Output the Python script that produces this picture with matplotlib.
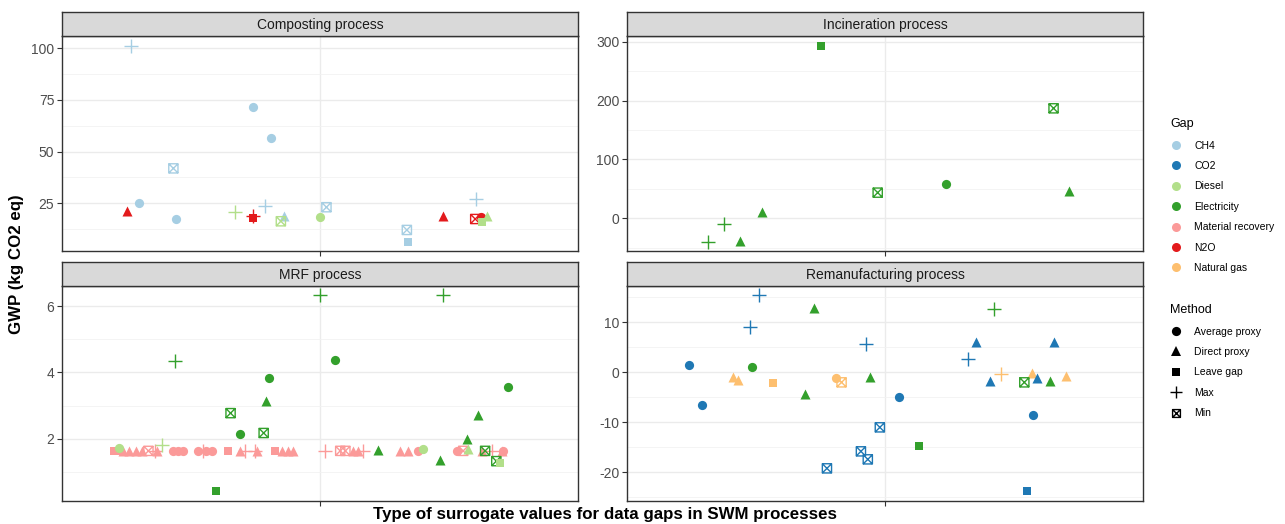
import matplotlib
matplotlib.use("Agg")
import matplotlib.pyplot as plt
from matplotlib.path import Path
from matplotlib.lines import Line2D
import numpy as np

plt.rcParams['font.family'] = ['Liberation Sans', 'DejaVu Sans']
plt.rcParams['axes.unicode_minus'] = False

# ---------------- data ----------------
gap_levels = ["CH4", "CO2", "Diesel", "Electricity", "Material recovery", "N2O", "Natural gas"]
gap_colors = ["#A6CEE3", "#1F78B4", "#B2DF8A", "#33A02C", "#FB9A99", "#E31A1C", "#FDBF6F"]
method_levels = ["Average proxy", "Direct proxy", "Leave gap", "Max", "Min"]

# Composting process
comp_gap = ["CH4", "CH4", "CH4", "CH4", "N2O", "CH4", "CH4", "Diesel", "N2O", "N2O", "CH4",
            "CH4", "Diesel", "Diesel", "CH4", "CH4", "CH4", "N2O", "CH4", "N2O", "N2O", "Diesel", "Diesel"]
comp_method = ["Max", "Average proxy", "Average proxy", "Min", "Direct proxy", "Average proxy",
               "Average proxy", "Max", "Leave gap", "Max", "Max", "Direct proxy", "Min",
               "Average proxy", "Min", "Min", "Leave gap", "Direct proxy", "Max", "Min",
               "Average proxy", "Direct proxy", "Leave gap"]
comp_jitter = [-0.439, -0.156, -0.113, -0.341, -0.450, -0.420, -0.336, -0.198, -0.156, -0.156,
               -0.127, -0.084, -0.091, 0.000, 0.015, 0.202, 0.205, 0.285, 0.363, 0.361,
               0.374, 0.389, 0.376]
comp_gwp = [101.1, 71.8, 56.6, 41.9, 21.3, 25.3, 17.6, 21.0, 18.1, 19.0, 23.7, 19.0, 16.3,
            18.5, 23.1, 12.1, 6.5, 18.9, 27.3, 17.4, 18.2, 18.9, 16.1]

# Incineration process
inc_gap = ["Electricity"] * 9
inc_method = ["Leave gap", "Min", "Min", "Average proxy", "Direct proxy", "Direct proxy",
              "Max", "Max", "Direct proxy"]
inc_jitter = [-0.149, 0.392, -0.017, 0.142, 0.428, -0.286, -0.375, -0.411, -0.338]
inc_gwp = [293.2, 186.8, 43.6, 57.7, 46.4, 10.2, -10.2, -40.8, -37.9]

# MRF process: material recovery band
mrf_mr_method = (["Leave gap"] * 4 + ["Direct proxy"] * 16 + ["Average proxy"] * 9
                 + ["Max"] * 7 + ["Min"] * 4)
mrf_mr_jitter = [-0.480, -0.471, -0.215, -0.104,
                 -0.459, -0.445, -0.429, -0.413, -0.378, -0.187, -0.146, -0.088, -0.074,
                 -0.062, 0.077, 0.089, 0.186, 0.205, 0.377, 0.423,
                 -0.343, -0.331, -0.318, -0.283, -0.266, -0.250, 0.228, 0.319, 0.425,
                 -0.383, -0.271, -0.174, -0.150, 0.012, 0.101, 0.400,
                 -0.399, 0.047, 0.059, 0.333]
mrf_mr_gwp = [1.63] * 40
# MRF process: electricity and diesel
mrf_gap = ["Electricity"] * 17 + ["Diesel"] * 5
mrf_method = ["Max", "Max", "Max", "Average proxy", "Average proxy", "Average proxy",
              "Direct proxy", "Min", "Min", "Average proxy", "Direct proxy", "Direct proxy",
              "Direct proxy", "Direct proxy", "Leave gap", "Min", "Min",
              "Leave gap", "Max", "Average proxy", "Direct proxy", "Average proxy"]
mrf_jitter = [0.000, 0.286, -0.338, 0.036, -0.118, 0.437, -0.126, -0.208, -0.131, -0.187,
              0.367, 0.343, 0.279, 0.136, -0.242, 0.410, 0.384,
              0.419, -0.367, 0.239, 0.345, -0.468]
mrf_gwp = [6.33, 6.33, 4.35, 4.36, 3.82, 3.56, 3.15, 2.77, 2.17, 2.14, 2.71, 1.98, 1.36,
           1.66, 0.42, 1.32, 1.63, 1.25, 1.81, 1.69, 1.69, 1.71]

# Remanufacturing process
rem_gap = ["CO2", "Electricity", "CO2", "CO2", "Electricity", "CO2", "CO2", "CO2", "CO2",
           "Electricity", "Natural gas", "Natural gas", "Natural gas", "Natural gas",
           "Natural gas", "Electricity", "Electricity", "CO2", "CO2", "CO2", "CO2", "CO2",
           "CO2", "Electricity", "Natural gas", "CO2", "Natural gas", "CO2", "Electricity",
           "Electricity", "Natural gas", "CO2", "CO2"]
rem_method = ["Max", "Direct proxy", "Max", "Max", "Max", "Direct proxy", "Direct proxy",
              "Max", "Average proxy", "Average proxy", "Direct proxy", "Direct proxy",
              "Leave gap", "Average proxy", "Min", "Direct proxy", "Direct proxy",
              "Average proxy", "Average proxy", "Min", "Min", "Min", "Min", "Leave gap",
              "Max", "Direct proxy", "Direct proxy", "Direct proxy", "Min", "Direct proxy",
              "Direct proxy", "Average proxy", "Leave gap"]
rem_jitter = [-0.293, -0.164, -0.314, -0.044, 0.254, 0.211, 0.393, 0.194, -0.456, -0.310,
              -0.354, -0.341, -0.261, -0.115, -0.101, -0.034, -0.187, -0.426, 0.033,
              -0.012, -0.056, -0.040, -0.135, 0.079, 0.269, 0.245, 0.343, 0.354, 0.324,
              0.384, 0.420, 0.345, 0.331]
rem_gwp = [15.4, 12.87, 9.07, 5.67, 12.67, 6.0, 6.0, 2.67, 1.4, 1.07, -1.0, -1.53, -2.07,
           -1.13, -2.0, -0.87, -4.4, -6.6, -5.0, -11.0, -15.8, -17.4, -19.2, -14.67, -0.33,
           -1.67, -0.13, -1.13, -2.0, -1.67, -0.8, -8.53, -23.67]

panel_titles = ["Composting process", "Incineration process", "MRF process", "Remanufacturing process"]
panel_ylim = [(1.92, 105.95), (-55.5, 309.6), (0.116, 6.61), (-25.73, 17.27)]
panel_major = [[25, 50, 75, 100], [0, 100, 200, 300], [2, 4, 6], [-20, -10, 0, 10]]
panel_minor = [[12.5, 37.5, 62.5, 87.5], [-50, 50, 150, 250], [1, 3, 5], [-25, -15, -5, 5, 15]]

# ---------------- styles ----------------
box_x = Path([(-1, -1), (1, -1), (1, 1), (-1, 1), (-1, -1), (-1, -1), (1, 1), (-1, 1), (1, -1)],
             [Path.MOVETO, Path.LINETO, Path.LINETO, Path.LINETO, Path.CLOSEPOLY,
              Path.MOVETO, Path.LINETO, Path.MOVETO, Path.LINETO])
mstyle = {
    "Average proxy": dict(marker="o", s=44, kind="filled"),
    "Direct proxy": dict(marker="^", s=52, kind="filled"),
    "Leave gap": dict(marker="s", s=34, kind="filled"),
    "Max": dict(marker="+", s=100, kind="line"),
    "Min": dict(marker=box_x, s=44, kind="open"),
}
cmap = dict(zip(gap_levels, gap_colors))

W, H = 1285, 524
fig = plt.figure(figsize=(W / 100, H / 100), dpi=100)

def fx(px):
    return px / W

def fy(py):
    return 1 - py / H

panel_px = [(62, 36, 578, 251), (627, 36, 1143, 251), (62, 286, 578, 501), (627, 286, 1143, 501)]
strip_h = 24

def draw_points(ax, gaps, methods, jit, vals):
    for g, m, j, v in zip(gaps, methods, jit, vals):
        st = mstyle[m]
        c = cmap[g]
        if st["kind"] == "filled":
            ax.scatter([1 + j], [v], marker=st["marker"], s=st["s"], color=c,
                       linewidths=0, zorder=3)
        elif st["kind"] == "line":
            ax.scatter([1 + j], [v], marker=st["marker"], s=st["s"], color=c,
                       linewidths=1.0, zorder=3)
        else:
            ax.scatter([1 + j], [v], marker=st["marker"], s=st["s"], facecolors="none",
                       edgecolors=c, linewidths=1.0, zorder=3)

axes = []
for i, (l, t, r, b) in enumerate(panel_px):
    ax = fig.add_axes([fx(l), fy(b), fx(r - l), fy(t) - fy(b)])
    axes.append(ax)
    ax.set_xlim(0.4, 1.6)
    ax.set_ylim(*panel_ylim[i])
    ax.set_yticks(panel_major[i])
    ax.set_yticks(panel_minor[i], minor=True)
    ax.set_xticks([1])
    ax.set_xticklabels([""])
    ax.grid(True, which="major", color="#EBEBEB", linewidth=1.0, zorder=0)
    ax.grid(True, which="minor", axis="y", color="#F2F2F2", linewidth=0.6, zorder=0)
    ax.set_axisbelow(True)
    ax.tick_params(axis="both", which="major", length=3.5, width=0.8, color="#333333",
                   labelsize=10, labelcolor="#4D4D4D", pad=2)
    ax.tick_params(axis="y", which="minor", length=0)
    for sp in ax.spines.values():
        sp.set_color("#333333")
        sp.set_linewidth(1.0)
    # strip
    sax = fig.add_axes([fx(l), fy(t), fx(r - l), fy(t - strip_h) - fy(t)])
    sax.set_facecolor("#D9D9D9")
    sax.set_xticks([])
    sax.set_yticks([])
    for sp in sax.spines.values():
        sp.set_color("#333333")
        sp.set_linewidth(1.0)
    sax.text(0.5, 0.47, panel_titles[i], ha="center", va="center", fontsize=10,
             color="#1A1A1A", transform=sax.transAxes)

draw_points(axes[0], comp_gap, comp_method, comp_jitter, comp_gwp)
draw_points(axes[1], inc_gap, inc_method, inc_jitter, inc_gwp)
draw_points(axes[2], ["Material recovery"] * len(mrf_mr_gwp), mrf_mr_method, mrf_mr_jitter, mrf_mr_gwp)
draw_points(axes[2], mrf_gap, mrf_method, mrf_jitter, mrf_gwp)
draw_points(axes[3], rem_gap, rem_method, rem_jitter, rem_gwp)

fig.text(fx(17), fy(264), "GWP (kg CO2 eq)", rotation=90, ha="center", va="center",
         fontsize=12.2, fontweight="bold")
fig.text(fx(605), fy(514), "Type of surrogate values for data gaps in SWM processes",
         ha="center", va="center", fontsize=12.2, fontweight="bold")

# legends
gap_handles = [Line2D([], [], marker="o", linestyle="none", markersize=6.5,
                      markerfacecolor=c, markeredgewidth=0, color=c) for c in gap_colors]
leg1 = fig.legend(gap_handles, gap_levels, title="Gap", loc="upper left",
                  bbox_to_anchor=(fx(1166), fy(114)), frameon=False, fontsize=7.5,
                  title_fontsize=9, labelspacing=1.0, handlelength=1.2, handletextpad=1.1,
                  alignment="left", borderaxespad=0)
meth_handles = []
for m in method_levels:
    st = mstyle[m]
    if st["kind"] == "filled":
        meth_handles.append(Line2D([], [], marker=st["marker"], linestyle="none",
                                   markersize=np.sqrt(st["s"]), markerfacecolor="black",
                                   markeredgewidth=0, color="black"))
    else:
        meth_handles.append(Line2D([], [], marker=st["marker"], linestyle="none",
                                   markersize=np.sqrt(st["s"]) * 0.85, markerfacecolor="none",
                                   markeredgecolor="black", markeredgewidth=1.0, color="black"))
leg2 = fig.legend(meth_handles, method_levels, title="Method", loc="upper left",
                  bbox_to_anchor=(fx(1166), fy(300)), frameon=False, fontsize=7.5,
                  title_fontsize=9, labelspacing=1.0, handlelength=1.2, handletextpad=1.1,
                  alignment="left", borderaxespad=0)

fig.savefig("out.png", dpi=100, facecolor="white")
